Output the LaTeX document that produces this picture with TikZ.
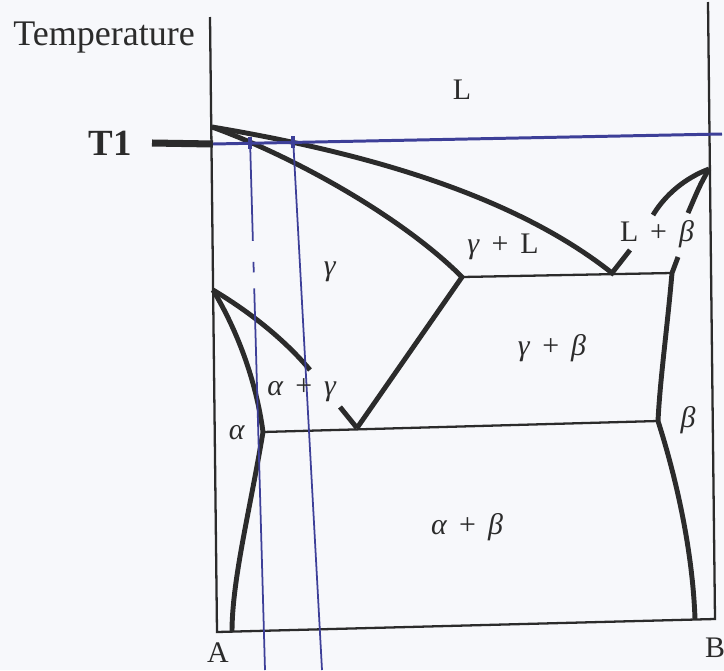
\documentclass[tikz,border=0pt]{standalone}
\usepackage{fontspec}
\setmainfont{Liberation Serif}
\definecolor{ink}{HTML}{2B2B2B}
\definecolor{tieblue}{HTML}{3D3F98}
\definecolor{paper}{HTML}{F7F8FB}
\newcommand{\phplus}{\hspace{.4em}+\hspace{.4em}}

\begin{document}
\begin{tikzpicture}[x=0.02cm,y=-0.02cm,font=\fontsize{17}{19}\selectfont,every node/.style={text=ink,inner sep=0pt},
  frame/.style={draw=ink,line width=1.3pt},
  phase/.style={draw=ink,line width=2.8pt},
  tie/.style={draw=tieblue,line width=1pt}]
% Page on a pixel grid, y running down.
\fill[paper] (0,0) rectangle (724,670);
\useasboundingbox (0,0) rectangle (724,670);
% Corners, melting points and invariant points.
\coordinate (topA) at (210,17);
\coordinate (cornerA) at (217,632);
\coordinate (cornerB) at (715,619);
\coordinate (topB) at (708,2);
\coordinate (meltA) at (212,127);
\coordinate (transA) at (213,290);
\coordinate (meltB) at (709,169);
\coordinate (eutL) at (612,273);
\coordinate (gamL) at (462,277);
\coordinate (betL) at (672,273);
\coordinate (alpE) at (263,432);
\coordinate (gamE) at (357,428);
\coordinate (betE) at (658,421);
\coordinate (alpBot) at (232,632);
\coordinate (betBot) at (695,619);
% Axes and the two horizontal isotherms.
\draw[frame] (topA) -- (cornerA) -- (cornerB) -- (topB);
\draw[frame] (gamL) -- (betL);
\draw[frame] (alpE) -- (betE);
% Phase boundaries, broken where a label sits.
\draw[phase] (meltA) .. controls (380,155) and (520,200) .. (eutL) -- (630,250);
\draw[phase] (meltA) .. controls (290,155) and (400,215) .. (gamL) -- (gamE);
\draw[phase] (transA) .. controls (250,312) and (285,340) .. (310,370);
\draw[phase] (340,407) -- (gamE);
\draw[phase] (transA) .. controls (237,330) and (256,380) .. (alpE) .. controls (250,510) and (232,580) .. (alpBot);
\draw[phase] (meltB) .. controls (685,178) and (665,195) .. (653,215);
\draw[phase] (meltB) .. controls (700,185) .. (688,213);
\draw[phase] (678,257) -- (betL) .. controls (667,330) and (660,380) .. (betE) .. controls (680,490) and (693,560) .. (betBot);
% T1 isotherm with its two verticals.
\coordinate (tLeft) at (213,144);
\coordinate (tRight) at (722,134);
\draw[ink,line width=4pt] (152,143) -- (tLeft);
\draw[tieblue,line width=1.7pt] (tLeft) -- (tRight);
\draw[tie,dash pattern=on 58pt off 12pt on 6pt off 9pt on 400pt] (250,139) -- (265,670);
\draw[tie] (293,137) -- (322,670);
\draw[tieblue,line width=2.2pt] (250,137) -- (250,149);
\draw[tieblue,line width=2.2pt] (293,136) -- (293,148);
% Labels.
\node[font=\fontsize{20.5}{23}\selectfont] (temp) at (104,38) {Temperature};
\node[font=\fontsize{21}{24}\selectfont\bfseries] (tone) at (110,143) {T1};
\node (liq) at (462,90) {L};
\node (gam) at (330,272) {\textit{γ}};
\node (gamliq) at (503,247) {\textit{γ}\phplus L};
\node (liqbet) at (657,234) {L\phplus\textit{β}};
\node (gambet) at (552,348) {\textit{γ}\phplus\textit{β}};
\node (alpgam) at (302,390) {\textit{α}\phplus\textit{γ}};
\node (alp) at (237,433) {\textit{α}};
\node (bet) at (688,420) {\textit{β}};
\node (alpbet) at (467,527) {\textit{α}\phplus\textit{β}};
\node (compA) at (218,653) {A};
\node (compB) at (715,648) {B};
\end{tikzpicture}
\end{document}
